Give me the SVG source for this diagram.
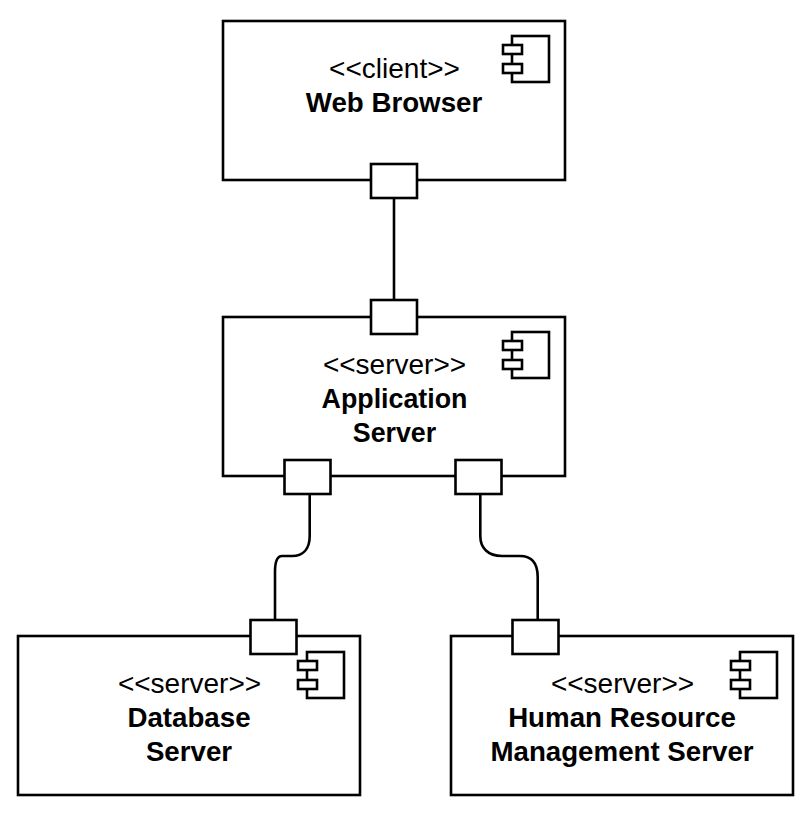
<svg xmlns="http://www.w3.org/2000/svg" width="811" height="817" viewBox="0 0 811 817">
<style>
.b{fill:#fff;stroke:#000;stroke-width:2.6}
.c{fill:none;stroke:#000;stroke-width:2.6}
text{font-family:"Liberation Sans",Arial,sans-serif;font-size:28px;text-anchor:middle;fill:#000}
.s{font-size:28px}
.n{font-weight:bold;font-size:27.7px}
.a{font-size:26.8px}
</style>
<defs>
<g id="icon"><rect class="b" x="9" y="0" width="37" height="46"/><rect class="b" x="0" y="9" width="19" height="9"/><rect class="b" x="0" y="28" width="19" height="9"/></g>
</defs>
<rect width="811" height="817" fill="#fff"/>
<g id="connectors">
<path class="c" d="M394 198V300"/>
<path class="c" d="M309.700 494V536C309.700 549 303 556 292 556H282C277 556 275 562 275 572V620"/>
<path class="c" d="M480.300 494V536C480.300 548 488 556 502 556H520C532 556 537.700 563 537.700 577V620"/>
</g>
<g id="web-browser">
<rect class="b" x="223" y="21" width="342" height="159"/>
<use href="#icon" x="503" y="36"/>
<text class="s" x="394.500" y="78">&lt;&lt;client&gt;&gt;</text>
<text class="n" x="394" y="112">Web Browser</text>
<rect class="b" x="371" y="164" width="46" height="34"/>
</g>
<g id="application-server">
<rect class="b" x="223" y="317" width="342" height="159"/>
<use href="#icon" x="503" y="332"/>
<text class="s" x="394.500" y="374">&lt;&lt;server&gt;&gt;</text>
<text class="n a" x="394.500" y="408">Application</text>
<text class="n a" x="394.500" y="442">Server</text>
<rect class="b" x="371" y="300" width="46" height="34"/>
<rect class="b" x="284.500" y="460" width="46" height="34"/>
<rect class="b" x="455.500" y="460" width="46" height="34"/>
</g>
<g id="database-server">
<rect class="b" x="18" y="636" width="342" height="159"/>
<use href="#icon" x="298" y="652"/>
<text class="s" x="189.500" y="693">&lt;&lt;server&gt;&gt;</text>
<text class="n" x="189" y="727">Database</text>
<text class="n" x="189" y="761">Server</text>
<rect class="b" x="250.500" y="620" width="46" height="34"/>
</g>
<g id="hr-server">
<rect class="b" x="451" y="636" width="342" height="159"/>
<use href="#icon" x="731" y="652"/>
<text class="s" x="622.500" y="693">&lt;&lt;server&gt;&gt;</text>
<text class="n" x="622" y="727">Human Resource</text>
<text class="n" x="622" y="761">Management Server</text>
<rect class="b" x="512.500" y="620" width="46" height="34"/>
</g>
</svg>
